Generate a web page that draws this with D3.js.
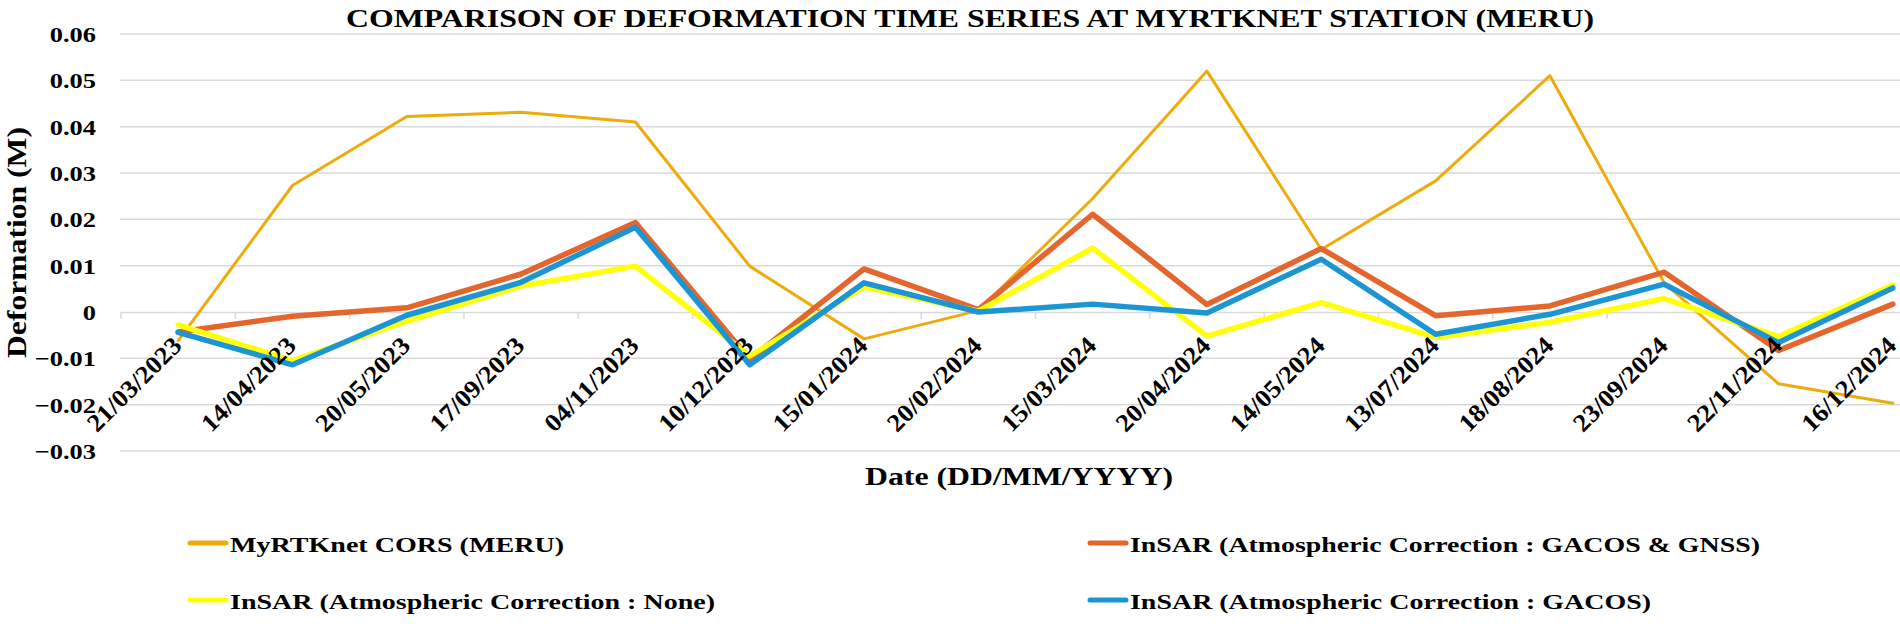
<!DOCTYPE html>
<html>
<head>
<meta charset="utf-8" />
<title>Comparison of deformation time series at MyRTKnet station (MERU)</title>
<style>
body { margin: 0; background: #fff; }
text { font-family: "Liberation Serif", "Times New Roman", serif; font-weight: bold; fill: #000; }
</style>
</head>
<body>
<div id="chart"></div>
<script src="https://cdnjs.cloudflare.com/ajax/libs/d3/7.8.5/d3.min.js"></script>
<script>
// data
var dates = ["21/03/2023","14/04/2023","20/05/2023","17/09/2023","04/11/2023","10/12/2023","15/01/2024","20/02/2024",
             "15/03/2024","20/04/2024","14/05/2024","13/07/2024","18/08/2024","23/09/2024","22/11/2024","16/12/2024"]
var corsMeru  = [-0.0062, 0.0273, 0.0422, 0.0431, 0.0410, 0.0099, -0.0058, 0.0003, 0.0245, 0.0520, 0.0135, 0.0283, 0.0510, 0.0063, -0.0155, -0.0197]
var gacosGnss = [-0.0043, -0.0009, 0.0009, 0.0082, 0.0193, -0.0102, 0.0093, 0.0005, 0.0211, 0.0016, 0.0137, -0.0008, 0.0013, 0.0086, -0.0083, 0.0017]
var noCorr    = [-0.0028, -0.0105, -0.0020, 0.0056, 0.0099, -0.0095, 0.0054, 0.0002, 0.0138, -0.0052, 0.0020, -0.0055, -0.0022, 0.0029, -0.0053, 0.0058]
var gacos     = [-0.0044, -0.0114, -0.0007, 0.0064, 0.0183, -0.0114, 0.0063, 0.0000, 0.0017, -0.0002, 0.0114, -0.0048, -0.0005, 0.0060, -0.0066, 0.0052]
var yTicks = [-0.03, -0.02, -0.01, 0, 0.01, 0.02, 0.03, 0.04, 0.05, 0.06]

var seriesNames = ["MyRTKnet CORS (MERU)", "InSAR (Atmospheric Correction : GACOS & GNSS)",
                   "InSAR (Atmospheric Correction : None)", "InSAR (Atmospheric Correction : GACOS)"]

!(function(){
    "use strict"

    var width = 1900, height = 624
    var svg = d3.select("#chart").append("svg")
        .attr("width", width).attr("height", height)
        .style("display", "block")

    // plot area runs past the right edge, as in the cropped original
    var x = d3.scaleBand().domain(dates).range([121, 1950]).padding(0)
    var y = d3.scaleLinear().domain([-0.03, 0.06]).range([451, 34])
    var cx = function(d) { return x(d) + x.bandwidth() / 2 }

    var series = [
        { name: seriesNames[0], values: corsMeru,  color: "#EDAB0C", w: 3 },
        { name: seriesNames[1], values: gacosGnss, color: "#E4662D", w: 5.5 },
        { name: seriesNames[2], values: noCorr,    color: "#FFFF0A", w: 5.5 },
        { name: seriesNames[3], values: gacos,     color: "#1C96D3", w: 5.5 }
    ]

    // gridlines
    svg.append("g").selectAll("line")
        .data(yTicks.filter(function(t) { return t !== 0 }))
        .enter().append("line")
        .attr("x1", 120).attr("x2", width)
        .attr("y1", function(d) { return y(d) }).attr("y2", function(d) { return y(d) })
        .attr("stroke", "#D9D9D9").attr("stroke-width", 1.5)

    // category axis on zero
    var xAxis = svg.append("g").attr("transform", "translate(0," + y(0) + ")")
        .call(d3.axisBottom(x).tickSize(0).tickFormat(""))
    xAxis.select(".domain").attr("stroke", "#D9D9D9").attr("stroke-width", 1.5)
    xAxis.selectAll(".tick").remove()
    xAxis.selectAll("line.edge")
        .data(dates).enter().append("line").attr("class", "edge")
        .attr("x1", function(d) { return x(d) }).attr("x2", function(d) { return x(d) })
        .attr("y1", 0).attr("y2", 7)
        .attr("stroke", "#D9D9D9").attr("stroke-width", 1.5)

    // y tick labels
    svg.append("g").selectAll("text")
        .data(yTicks).enter().append("text")
        .attr("x", 96).attr("y", function(d) { return y(d) + 8 })
        .attr("text-anchor", "end")
        .style("font-size", "22px")
        .text(function(d) { return d === 0 ? "0" : d3.format(".2f")(d) })
        .each(function() {
            this.setAttribute("textLength", this.getComputedTextLength() * 1.2)
            this.setAttribute("lengthAdjust", "spacingAndGlyphs")
        })

    // lines
    var line = d3.line()
        .x(function(d, i) { return cx(dates[i]) })
        .y(function(d) { return y(d) })

    svg.append("g").selectAll("path")
        .data(series).enter().append("path")
        .attr("d", function(s) { return line(s.values) })
        .attr("fill", "none")
        .attr("stroke", function(s) { return s.color })
        .attr("stroke-width", function(s) { return s.w })
        .attr("stroke-linejoin", "round")
        .attr("stroke-linecap", "round")

    // rotated date labels
    svg.append("g").selectAll("text")
        .data(dates).enter().append("text")
        .attr("text-anchor", "end")
        .attr("transform", function(d) { return "translate(" + (cx(d) + 5) + ",347) rotate(-45)" })
        .style("font-size", "25px")
        .attr("textLength", 122).attr("lengthAdjust", "spacingAndGlyphs")
        .text(function(d) { return d })

    // titles
    svg.append("text")
        .attr("x", 346).attr("y", 27)
        .style("font-size", "25px")
        .attr("textLength", 1248).attr("lengthAdjust", "spacingAndGlyphs")
        .text("COMPARISON OF DEFORMATION TIME SERIES AT MYRTKNET STATION (MERU)")

    svg.append("text")
        .attr("x", 865).attr("y", 485)
        .style("font-size", "26px")
        .attr("textLength", 308).attr("lengthAdjust", "spacingAndGlyphs")
        .text("Date (DD/MM/YYYY)")

    svg.append("text")
        .attr("transform", "translate(26,358) rotate(-90)")
        .style("font-size", "28px")
        .attr("textLength", 231).attr("lengthAdjust", "spacingAndGlyphs")
        .text("Deformation (M)")

    // legend, two columns
    var legendPos = [
        { x: 188, y: 543, len: 334 },
        { x: 1088, y: 543, len: 630 },
        { x: 188, y: 600, len: 485 },
        { x: 1088, y: 600, len: 521 }
    ]
    var legend = svg.append("g").selectAll("g")
        .data(series).enter().append("g")
        .attr("transform", function(s, i) { return "translate(" + legendPos[i].x + "," + legendPos[i].y + ")" })

    legend.append("line")
        .attr("x1", 2).attr("x2", 38).attr("y1", 0).attr("y2", 0)
        .attr("stroke", function(s) { return s.color })
        .attr("stroke-width", 5)
        .attr("stroke-linecap", "round")

    legend.append("text")
        .attr("x", 42).attr("y", 9)
        .style("font-size", "21px")
        .attr("textLength", function(s, i) { return legendPos[i].len })
        .attr("lengthAdjust", "spacingAndGlyphs")
        .text(function(s) { return s.name })
}());
</script>
</body>
</html>
